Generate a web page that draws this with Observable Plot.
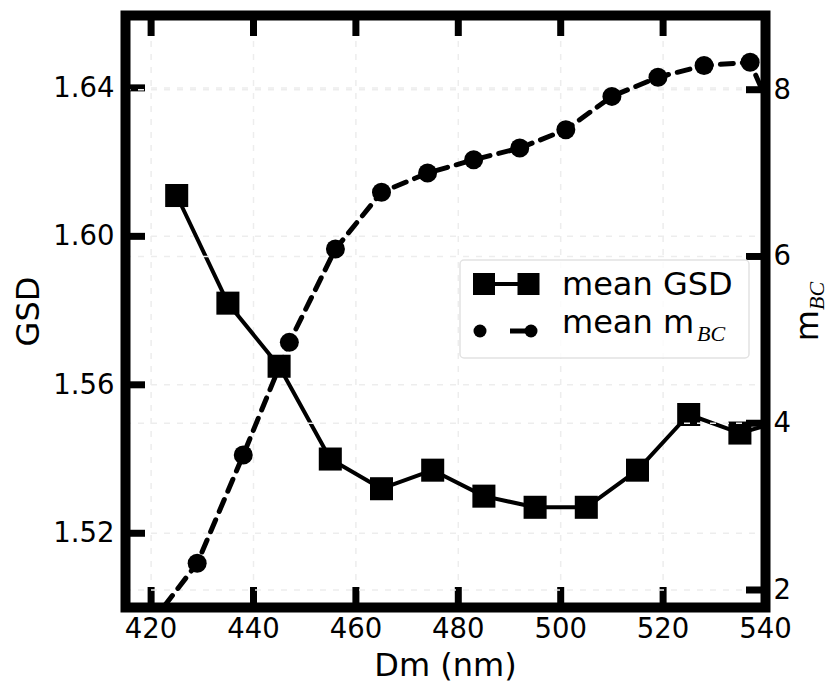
<!DOCTYPE html>
<html><head><meta charset="utf-8">
<script src="https://cdn.jsdelivr.net/npm/d3@7"></script>
<script src="https://cdn.jsdelivr.net/npm/@observablehq/plot@0.6"></script>
<style>
body{margin:0;background:#fff;}
#wrap{position:relative;width:829px;height:684px;font-family:"DejaVu Sans";color:#000;}
#wrap > svg{position:absolute;left:0;top:0;}
</style></head><body><div id="wrap"></div>
<script>
// ---- data ----
const dmGSD = [425, 435, 445, 455, 465, 475, 485, 495, 505, 515, 525, 535, 545];
const gsd   = [1.611, 1.582, 1.565, 1.540, 1.532, 1.537, 1.530, 1.527, 1.527, 1.537, 1.552, 1.547, 1.551];
const dmMBC = [420, 429, 438, 447, 456, 465, 474, 483, 492, 501, 510, 519, 528, 537, 546];
const mbc   = [1.60, 2.32, 3.62, 4.97, 6.09, 6.77, 7.00, 7.16, 7.30, 7.52, 7.92, 8.15, 8.29, 8.33, 7.05];
const xTicks = [420, 440, 460, 480, 500, 520, 540];
const gsdTicks = [1.52, 1.56, 1.60, 1.64];
const mbcTicks = [2, 4, 6, 8];
const xLabel = "Dm (nm)";
const yLabelLeft = "GSD";
const yLabelRight = ["m", "BC"];
const legendGSD = "mean GSD";
const legendMBC = ["mean m", "BC"];

const W = 829, H = 684;
const margins = {marginLeft: 125, marginRight: 64, marginTop: 15, marginBottom: 77};
const xDomain = [415, 540];
const gsdRows = dmGSD.map((d, i) => ({dm: d, v: gsd[i]}));
const mbcRows = dmMBC.map((d, i) => ({dm: d, v: mbc[i]}));
const grid = {stroke: "#ededed", strokeOpacity: 1, strokeWidth: 1.5, strokeDasharray: "6,7"};
const tickFont = 27.5, labelFont = 32;

const p1 = Plot.plot({
  width: W, height: H, ...margins,
  style: {fontFamily: "DejaVu Sans", background: "white", overflow: "visible"},
  x: {domain: xDomain},
  y: {domain: [1.50, 1.6595]},
  marks: [
    Plot.gridX(xTicks, grid),
    Plot.gridY(gsdTicks, grid),
    Plot.line(gsdRows, {x: "dm", y: "v", stroke: "black", strokeWidth: 4, clip: true}),
    Plot.dot(gsdRows, {x: "dm", y: "v", symbol: "square", r: 13, fill: "black", stroke: null, clip: true}),
    Plot.axisY(gsdTicks, {anchor: "left", tickSize: -20, tickPadding: 31, strokeWidth: 7, fontSize: tickFont, tickFormat: d3.format(".2f"), label: null}),
    Plot.axisX(xTicks, {anchor: "bottom", tickSize: -20, tickPadding: 31, strokeWidth: 7, fontSize: tickFont, tickFormat: d => String(d), label: null}),
    Plot.axisX(xTicks, {anchor: "top", tickSize: -20, strokeWidth: 7, tickFormat: () => "", label: null}),
    Plot.text([xLabel], {text: d => d, frameAnchor: "bottom", lineAnchor: "middle", dy: 58, fontSize: labelFont}),
    Plot.text([yLabelLeft], {text: d => d, frameAnchor: "left", lineAnchor: "middle", textAnchor: "middle", dx: -97, rotate: -90, fontSize: labelFont})
  ]
});

const p2 = Plot.plot({
  width: W, height: H, ...margins,
  style: {fontFamily: "DejaVu Sans", background: "transparent", overflow: "visible"},
  x: {domain: xDomain, axis: null},
  y: {domain: [1.79, 8.89]},
  marks: [
    Plot.gridY(mbcTicks, grid),
    Plot.line(mbcRows, {x: "dm", y: "v", stroke: "black", strokeWidth: 5, strokeDasharray: "13,9", clip: true}),
    Plot.dot(mbcRows, {x: "dm", y: "v", r: 9.5, fill: "black", stroke: null, clip: true}),
    Plot.axisY(mbcTicks, {anchor: "right", tickSize: -20, tickPadding: 28, strokeWidth: 7, fontSize: tickFont, tickFormat: d => String(d), label: null}),
    Plot.frame({stroke: "black", strokeWidth: 10}),
    Plot.text([yLabelRight[0]], {text: d => d, frameAnchor: "right", lineAnchor: "middle", textAnchor: "middle", dx: 42, rotate: -90, fontSize: labelFont})
  ]
});

// subscript on the right axis label
d3.select(p2).selectAll("text").filter(function () { return this.textContent === yLabelRight[0]; })
  .append("tspan").attr("font-family", "Liberation Serif").attr("font-style", "italic")
  .attr("font-size", 22).attr("dy", "0.3em").text(yLabelRight[1]);

const wrap = document.getElementById("wrap");
wrap.appendChild(p1);
wrap.appendChild(p2);

// legend
const lg = d3.create("svg").attr("width", W).attr("height", H)
  .style("position", "absolute").style("left", "0").style("top", "0");
lg.append("rect").attr("x", 460).attr("y", 260).attr("width", 289).attr("height", 98).attr("rx", 4)
  .attr("fill", "white").attr("fill-opacity", 0.8).attr("stroke", "#e2e2e2").attr("stroke-width", 1.5);
lg.append("line").attr("x1", 484).attr("x2", 528.5).attr("y1", 284).attr("y2", 284).attr("stroke", "black").attr("stroke-width", 4);
[484, 528.5].forEach(cx => lg.append("rect").attr("x", cx - 11).attr("y", 273).attr("width", 22).attr("height", 22).attr("fill", "black"));
lg.append("line").attr("x1", 510).attr("x2", 526).attr("y1", 331).attr("y2", 331).attr("stroke", "black").attr("stroke-width", 5);
[480, 531].forEach(cx => lg.append("circle").attr("cx", cx).attr("cy", 331).attr("r", 6.5).attr("fill", "black"));
lg.append("text").attr("x", 562).attr("y", 295).attr("font-family", "DejaVu Sans").attr("font-size", 32).text(legendGSD);
const t2 = lg.append("text").attr("x", 562).attr("y", 333).attr("font-family", "DejaVu Sans").attr("font-size", 32);
t2.append("tspan").text(legendMBC[0]);
t2.append("tspan").attr("font-family", "Liberation Serif").attr("font-style", "italic").attr("font-size", 22).attr("dx", 3).attr("dy", 8).text(legendMBC[1]);
wrap.appendChild(lg.node());
</script></body></html>
